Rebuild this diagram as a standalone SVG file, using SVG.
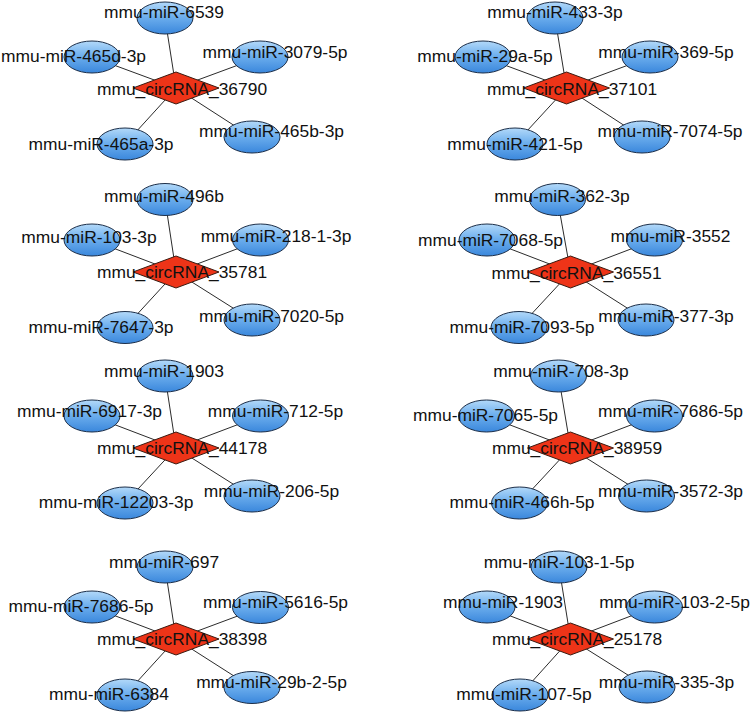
<svg xmlns="http://www.w3.org/2000/svg" width="751" height="713" viewBox="0 0 751 713">
<defs>
<linearGradient id="blue" x1="0" y1="0" x2="0" y2="1">
<stop offset="0" stop-color="#b3d9f9"/>
<stop offset="0.45" stop-color="#6fb0ee"/>
<stop offset="1" stop-color="#3a87dc"/>
</linearGradient>
</defs>
<style>
.e{fill:url(#blue);stroke:#1c2e48;stroke-width:1}
.d{fill:#ee3418;stroke:#3a1a10;stroke-width:1}
text{font-family:"Liberation Sans",Arial,sans-serif;font-size:17.4px;fill:#111;text-anchor:middle}
#edges line{stroke:#2b2b2b;stroke-width:1}
</style>
<rect width="751" height="713" fill="#fff"/>
<g id="edges">
<line x1="176" y1="88" x2="165" y2="18"/><line x1="176" y1="88" x2="92" y2="57"/><line x1="176" y1="88" x2="260" y2="57"/><line x1="176" y1="88" x2="125" y2="144"/><line x1="176" y1="88" x2="252" y2="137"/>
<line x1="566.5" y1="88" x2="555" y2="18"/><line x1="566.5" y1="88" x2="483" y2="57"/><line x1="566.5" y1="88" x2="650" y2="57"/><line x1="566.5" y1="88" x2="515" y2="144"/><line x1="566.5" y1="88" x2="642" y2="137"/>
<line x1="176" y1="272" x2="165" y2="199.5"/><line x1="176" y1="272" x2="92" y2="240"/><line x1="176" y1="272" x2="260.5" y2="240"/><line x1="176" y1="272" x2="125" y2="327.5"/><line x1="176" y1="272" x2="252" y2="320"/>
<line x1="570.5" y1="272" x2="557.5" y2="199.5"/><line x1="570.5" y1="272" x2="487" y2="240"/><line x1="570.5" y1="272" x2="654.5" y2="240"/><line x1="570.5" y1="272" x2="519" y2="327.5"/><line x1="570.5" y1="272" x2="646" y2="320"/>
<line x1="176" y1="448" x2="165" y2="376"/><line x1="176" y1="448" x2="92" y2="416"/><line x1="176" y1="448" x2="260.5" y2="416"/><line x1="176" y1="448" x2="125" y2="503"/><line x1="176" y1="448" x2="252" y2="496"/>
<line x1="570.5" y1="448" x2="558.5" y2="376"/><line x1="570.5" y1="448" x2="486.5" y2="416"/><line x1="570.5" y1="448" x2="654.5" y2="416"/><line x1="570.5" y1="448" x2="519.5" y2="503"/><line x1="570.5" y1="448" x2="646.5" y2="496"/>
<line x1="176" y1="639" x2="165" y2="567"/><line x1="176" y1="639" x2="92" y2="607"/><line x1="176" y1="639" x2="260.5" y2="607.5"/><line x1="176" y1="639" x2="125" y2="695"/><line x1="176" y1="639" x2="252" y2="687.5"/>
<line x1="570.5" y1="639" x2="559" y2="567"/><line x1="570.5" y1="639" x2="487" y2="607"/><line x1="570.5" y1="639" x2="654.5" y2="607"/><line x1="570.5" y1="639" x2="520" y2="695"/><line x1="570.5" y1="639" x2="647" y2="687"/>
</g>

<g id="p1-mir-6539"><ellipse class="e" cx="165" cy="18" rx="28" ry="16"/><text x="164" y="18">mmu-miR-6539</text></g>
<g id="p1-mir-465d-3p"><ellipse class="e" cx="92" cy="57" rx="28" ry="16"/><text x="73.5" y="62">mmu-miR-465d-3p</text></g>
<g id="p1-mir-3079-5p"><ellipse class="e" cx="260" cy="57" rx="28" ry="16"/><text x="275" y="58">mmu-miR-3079-5p</text></g>
<g id="p1-mir-465a-3p"><ellipse class="e" cx="125" cy="144" rx="28" ry="16"/><text x="101" y="150">mmu-miR-465a-3p</text></g>
<g id="p1-mir-465b-3p"><ellipse class="e" cx="252" cy="137" rx="28" ry="16"/><text x="271.5" y="137">mmu-miR-465b-3p</text></g>
<g id="circ-36790"><polygon class="d" points="133,88 176,72 219,88 176,104"/><text x="182" y="95">mmu_circRNA_36790</text></g>

<g id="p2-mir-433-3p"><ellipse class="e" cx="555" cy="18" rx="28" ry="16"/><text x="555" y="18">mmu-miR-433-3p</text></g>
<g id="p2-mir-29a-5p"><ellipse class="e" cx="483" cy="57" rx="28" ry="16"/><text x="485" y="62">mmu-miR-29a-5p</text></g>
<g id="p2-mir-369-5p"><ellipse class="e" cx="650" cy="57" rx="28" ry="16"/><text x="666" y="58">mmu-miR-369-5p</text></g>
<g id="p2-mir-421-5p"><ellipse class="e" cx="515" cy="144" rx="28" ry="16"/><text x="515" y="150">mmu-miR-421-5p</text></g>
<g id="p2-mir-7074-5p"><ellipse class="e" cx="642" cy="137" rx="28" ry="16"/><text x="670" y="137">mmu-miR-7074-5p</text></g>
<g id="circ-37101"><polygon class="d" points="523.5,88 566.5,72 609.5,88 566.5,104"/><text x="572" y="95">mmu_circRNA_37101</text></g>

<g id="p3-mir-496b"><ellipse class="e" cx="165" cy="199.5" rx="28" ry="16"/><text x="164" y="202">mmu-miR-496b</text></g>
<g id="p3-mir-103-3p"><ellipse class="e" cx="92" cy="240" rx="28" ry="16"/><text x="89" y="243">mmu-miR-103-3p</text></g>
<g id="p3-mir-218-1-3p"><ellipse class="e" cx="260.5" cy="240" rx="28" ry="16"/><text x="276" y="242">mmu-miR-218-1-3p</text></g>
<g id="p3-mir-7647-3p"><ellipse class="e" cx="125" cy="327.5" rx="28" ry="16"/><text x="101" y="333">mmu-miR-7647-3p</text></g>
<g id="p3-mir-7020-5p"><ellipse class="e" cx="252" cy="320" rx="28" ry="16"/><text x="271.5" y="322">mmu-miR-7020-5p</text></g>
<g id="circ-35781"><polygon class="d" points="133,272 176,256 219,272 176,288"/><text x="182" y="278">mmu_circRNA_35781</text></g>

<g id="p4-mir-362-3p"><ellipse class="e" cx="557.5" cy="199.5" rx="28" ry="16"/><text x="562" y="202">mmu-miR-362-3p</text></g>
<g id="p4-mir-7068-5p"><ellipse class="e" cx="487" cy="240" rx="28" ry="16"/><text x="490.5" y="246">mmu-miR-7068-5p</text></g>
<g id="p4-mir-3552"><ellipse class="e" cx="654.5" cy="240" rx="28" ry="16"/><text x="670.5" y="242">mmu-miR-3552</text></g>
<g id="p4-mir-7093-5p"><ellipse class="e" cx="519" cy="327.5" rx="28" ry="16"/><text x="522" y="333">mmu-miR-7093-5p</text></g>
<g id="p4-mir-377-3p"><ellipse class="e" cx="646" cy="320" rx="28" ry="16"/><text x="666" y="322">mmu-miR-377-3p</text></g>
<g id="circ-36551"><polygon class="d" points="527.5,272 570.5,256 613.5,272 570.5,288"/><text x="576.5" y="279">mmu_circRNA_36551</text></g>

<g id="p5-mir-1903"><ellipse class="e" cx="165" cy="376" rx="28" ry="16"/><text x="164" y="377">mmu-miR-1903</text></g>
<g id="p5-mir-6917-3p"><ellipse class="e" cx="92" cy="416" rx="28" ry="16"/><text x="89.5" y="417">mmu-miR-6917-3p</text></g>
<g id="p5-mir-712-5p"><ellipse class="e" cx="260.5" cy="416" rx="28" ry="16"/><text x="275.5" y="417">mmu-miR-712-5p</text></g>
<g id="p5-mir-12203-3p"><ellipse class="e" cx="125" cy="503" rx="28" ry="16"/><text x="116" y="508">mmu-miR-12203-3p</text></g>
<g id="p5-mir-206-5p"><ellipse class="e" cx="252" cy="496" rx="28" ry="16"/><text x="271.5" y="497">mmu-miR-206-5p</text></g>
<g id="circ-44178"><polygon class="d" points="133,448 176,432 219,448 176,464"/><text x="182" y="454">mmu_circRNA_44178</text></g>

<g id="p6-mir-708-3p"><ellipse class="e" cx="558.5" cy="376" rx="28" ry="16"/><text x="561" y="377">mmu-miR-708-3p</text></g>
<g id="p6-mir-7065-5p"><ellipse class="e" cx="486.5" cy="416" rx="28" ry="16"/><text x="485.5" y="421">mmu-miR-7065-5p</text></g>
<g id="p6-mir-7686-5p"><ellipse class="e" cx="654.5" cy="416" rx="28" ry="16"/><text x="670.5" y="417">mmu-miR-7686-5p</text></g>
<g id="p6-mir-466h-5p"><ellipse class="e" cx="519.5" cy="503" rx="28" ry="16"/><text x="522" y="508">mmu-miR-466h-5p</text></g>
<g id="p6-mir-3572-3p"><ellipse class="e" cx="646.5" cy="496" rx="28" ry="16"/><text x="670.5" y="497">mmu-miR-3572-3p</text></g>
<g id="circ-38959"><polygon class="d" points="527.5,448 570.5,432 613.5,448 570.5,464"/><text x="577" y="454">mmu_circRNA_38959</text></g>

<g id="p7-mir-697"><ellipse class="e" cx="165" cy="567" rx="28" ry="16"/><text x="164" y="568">mmu-miR-697</text></g>
<g id="p7-mir-7686-5p"><ellipse class="e" cx="92" cy="607" rx="28" ry="16"/><text x="81" y="612">mmu-miR-7686-5p</text></g>
<g id="p7-mir-5616-5p"><ellipse class="e" cx="260.5" cy="607.5" rx="28" ry="16"/><text x="275.5" y="608">mmu-miR-5616-5p</text></g>
<g id="p7-mir-6384"><ellipse class="e" cx="125" cy="695" rx="28" ry="16"/><text x="109" y="700">mmu-miR-6384</text></g>
<g id="p7-mir-29b-2-5p"><ellipse class="e" cx="252" cy="687.5" rx="28" ry="16"/><text x="271.5" y="688">mmu-miR-29b-2-5p</text></g>
<g id="circ-38398"><polygon class="d" points="133,639 176,623 219,639 176,655"/><text x="182" y="645">mmu_circRNA_38398</text></g>

<g id="p8-mir-103-1-5p"><ellipse class="e" cx="559" cy="567" rx="28" ry="16"/><text x="559" y="568">mmu-miR-103-1-5p</text></g>
<g id="p8-mir-1903"><ellipse class="e" cx="487" cy="607" rx="28" ry="16"/><text x="503" y="608">mmu-miR-1903</text></g>
<g id="p8-mir-103-2-5p"><ellipse class="e" cx="654.5" cy="607" rx="28" ry="16"/><text x="674.5" y="608">mmu-miR-103-2-5p</text></g>
<g id="p8-mir-107-5p"><ellipse class="e" cx="520" cy="695" rx="28" ry="16"/><text x="524" y="700">mmu-miR-107-5p</text></g>
<g id="p8-mir-335-3p"><ellipse class="e" cx="647" cy="687" rx="28" ry="16"/><text x="666.5" y="688">mmu-miR-335-3p</text></g>
<g id="circ-25178"><polygon class="d" points="527.5,639 570.5,623 613.5,639 570.5,655"/><text x="577" y="645">mmu_circRNA_25178</text></g>
</svg>
